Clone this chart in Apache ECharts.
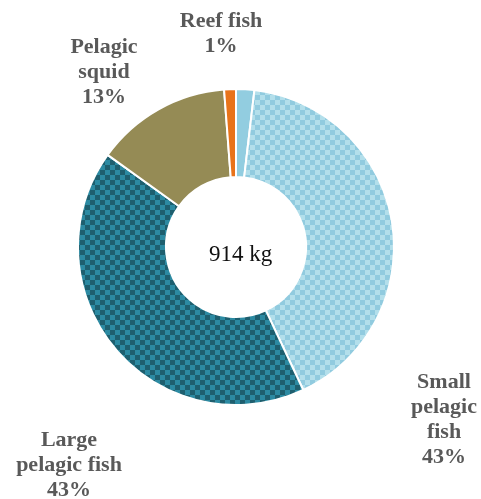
<!DOCTYPE html>
<html>
<head>
<meta charset="utf-8">
<script src="https://cdn.jsdelivr.net/npm/echarts@6/dist/echarts.min.js"></script>
<style>html,body{margin:0;padding:0;background:#fff}#c{width:481px;height:499px}</style>
</head>
<body>
<div id="c"></div>
<script>
// Data (kg, total 914)
var categories = ['Other', 'Small pelagic fish', 'Large pelagic fish', 'Pelagic squid', 'Reef fish'];
var valuesKg = [17, 376, 383, 127, 11];
var labelTexts = ['', 'Small\npelagic\nfish\n43%', 'Large\npelagic fish\n43%', 'Pelagic\nsquid\n13%', 'Reef fish\n1%'];
var totalText = '914 kg';

function checker(c1, c2, s) {
  var cv = document.createElement('canvas');
  cv.width = s * 2; cv.height = s * 2;
  var ctx = cv.getContext('2d');
  ctx.fillStyle = c1; ctx.fillRect(0, 0, s * 2, s * 2);
  ctx.fillStyle = c2; ctx.fillRect(0, 0, s, s); ctx.fillRect(s, s, s, s);
  return { image: cv, repeat: 'repeat' };
}
var fills = [
  '#92cde0',
  checker('#b3dfeb', '#91cbdf', 5),
  checker('#2c8aa2', '#1e5f6f', 5),
  '#958b55',
  '#e8731a'
];
var labelPos = [null, [444, 420], [69, 465], [104, 72], [221, 34]];

var chart = echarts.init(document.getElementById('c'), null, { renderer: 'canvas' });
chart.setOption({
  animation: false,
  graphic: [{
    type: 'text', left: 'center', top: 243, z: 10,
    style: { text: totalText, font: '23px "Liberation Serif", "Times New Roman", serif', fill: '#111' }
  }],
  series: [{
    type: 'pie',
    center: [236, 247],
    radius: [70, 158],
    startAngle: 90,
    clockwise: true,
    avoidLabelOverlap: false,
    itemStyle: { borderColor: '#fff', borderWidth: 2 },
    label: {
      show: true,
      position: 'outside',
      formatter: function (p) { return labelTexts[p.dataIndex]; },
      fontFamily: '"Liberation Serif", "Times New Roman", serif',
      fontWeight: 'bold',
      fontSize: 22,
      lineHeight: 25,
      color: '#595959',
      align: 'center'
    },
    labelLine: { show: false },
    labelLayout: function (p) {
      var pos = labelPos[p.dataIndex];
      if (!pos) return {};
      return { x: pos[0], y: pos[1], align: 'center', verticalAlign: 'middle' };
    },
    emphasis: { disabled: true },
    data: categories.map(function (n, i) {
      return { name: n, value: valuesKg[i], itemStyle: { color: fills[i] } };
    })
  }]
});
</script>
</body>
</html>
